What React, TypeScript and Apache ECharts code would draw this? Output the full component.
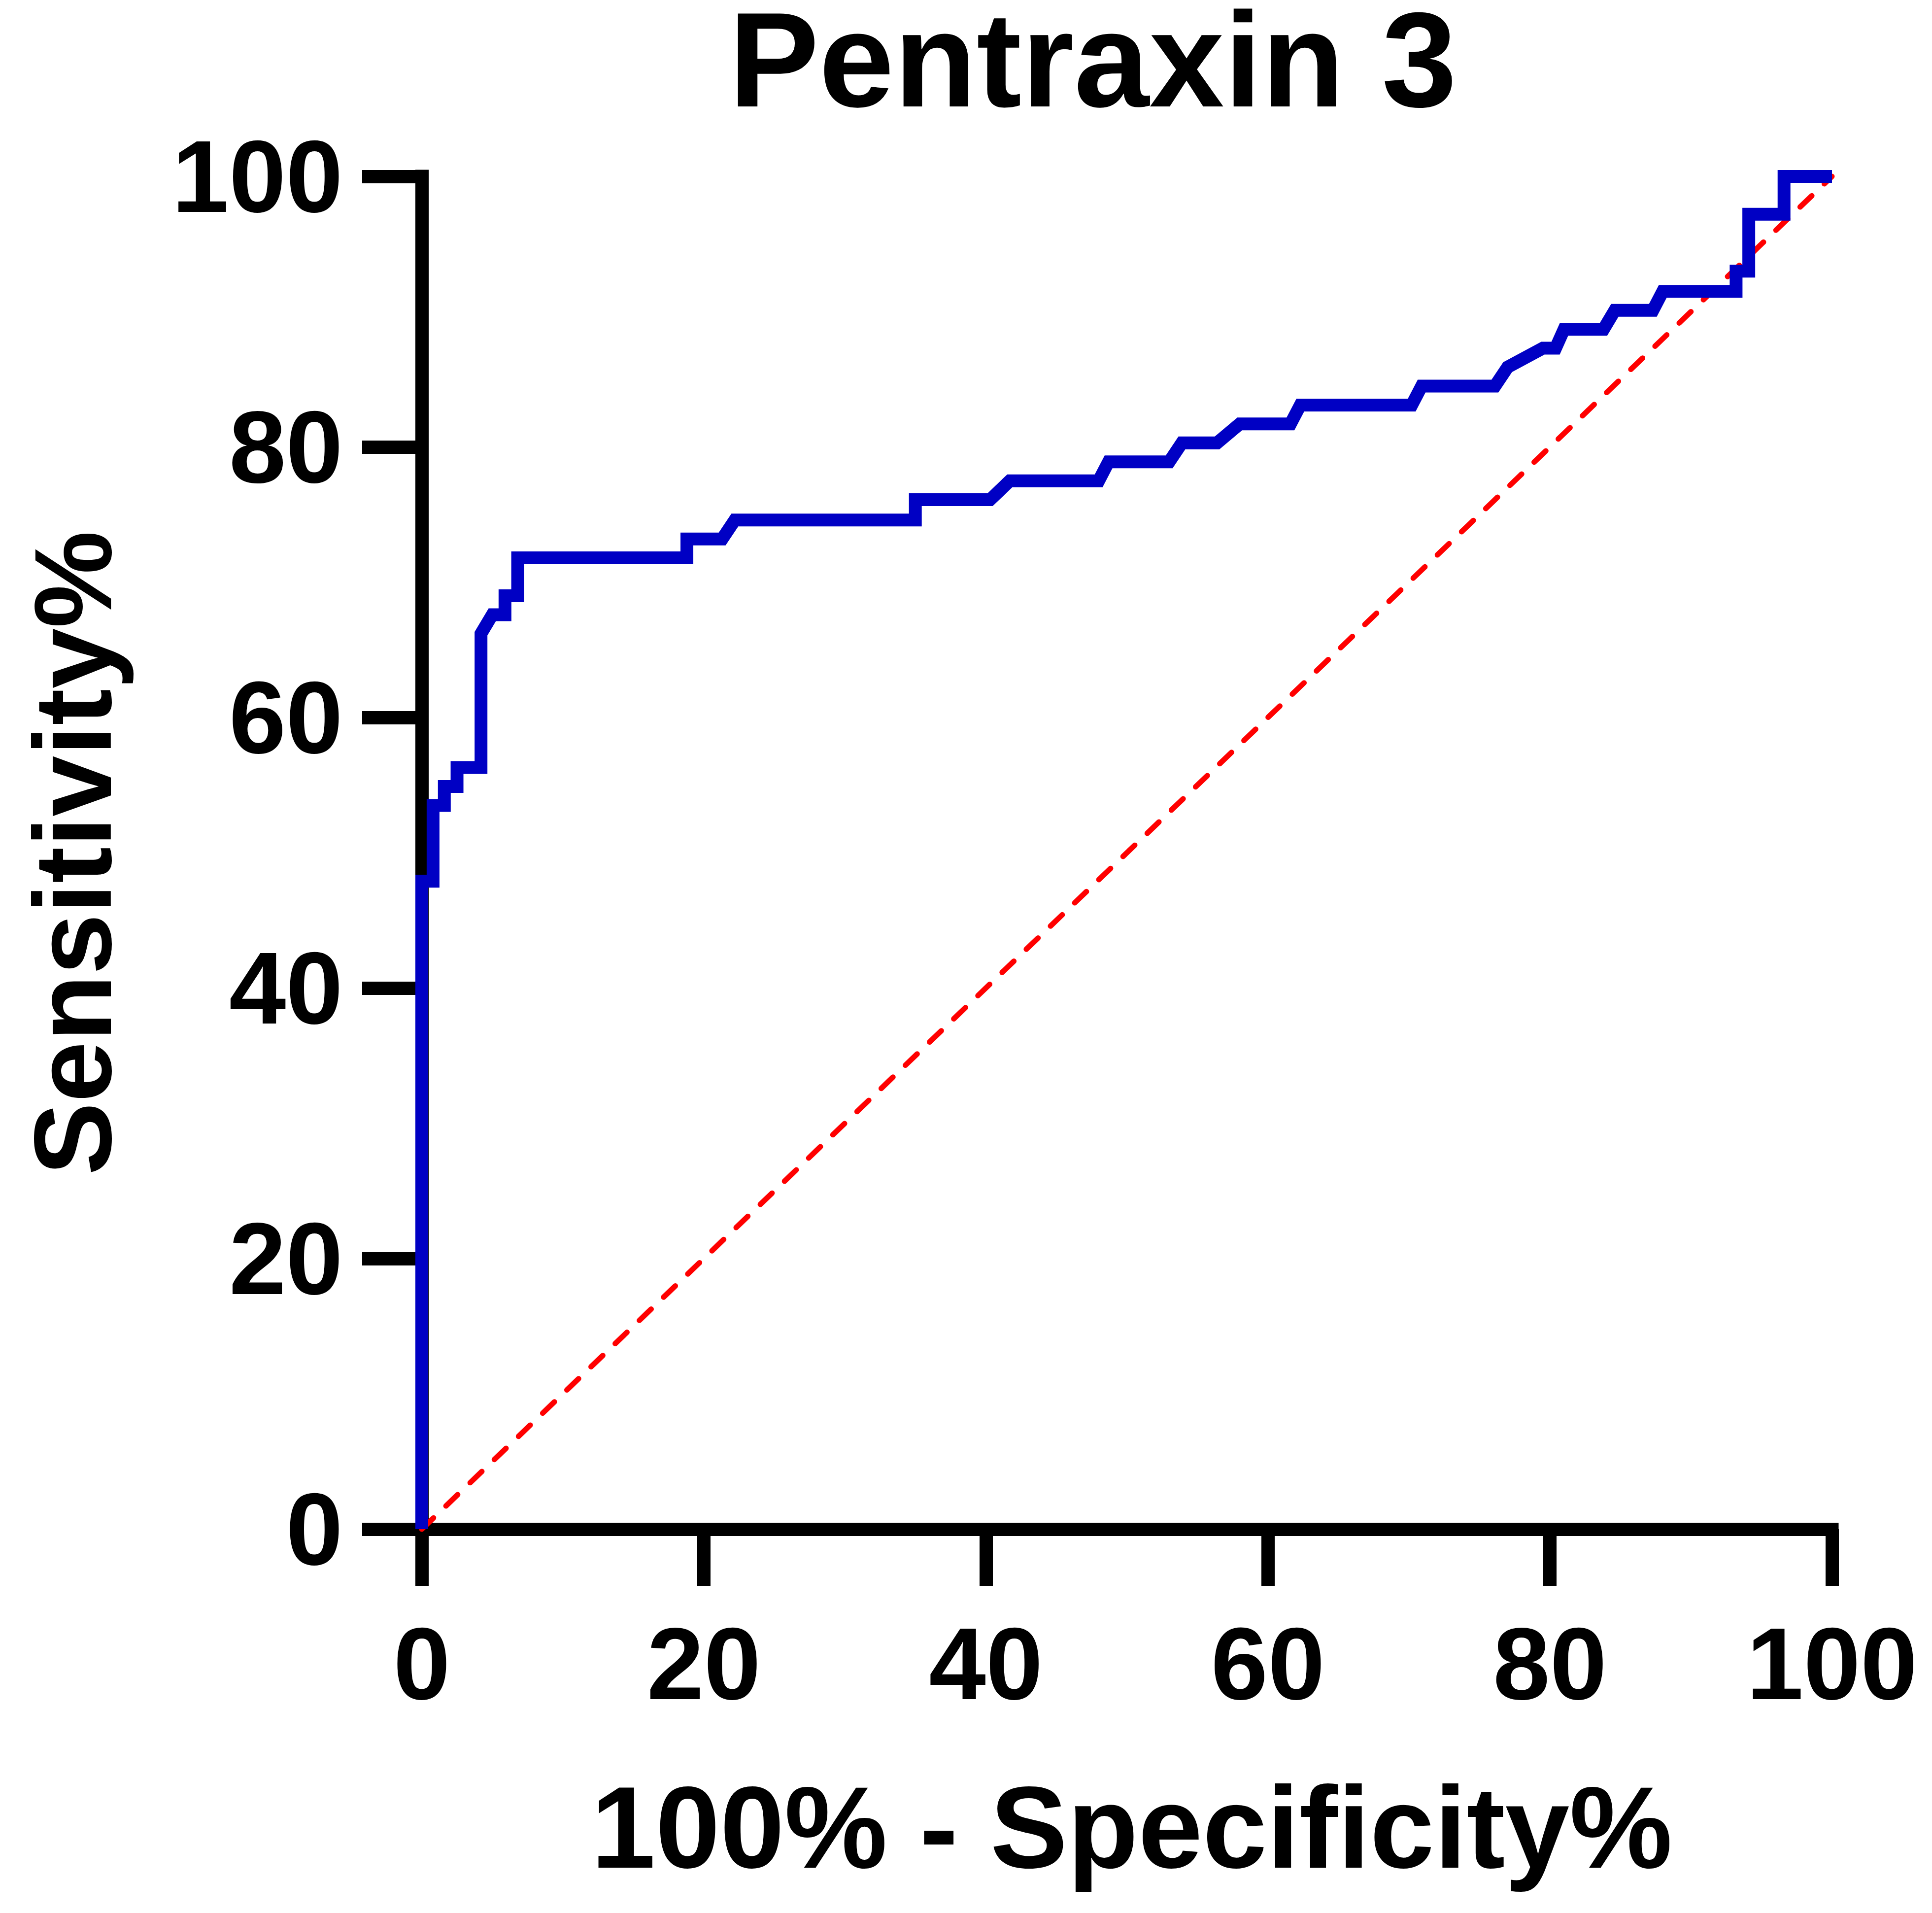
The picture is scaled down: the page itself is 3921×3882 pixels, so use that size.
import React, { useEffect, useRef } from "react";
import * as echarts from "echarts";

// ROC curve: x = 100% - Specificity%, y = Sensitivity%
const fprValues = [
  0, 0, 0.8, 0.8, 1.6, 1.6, 2.5, 2.5, 4.2, 4.2, 5.0, 5.9, 5.9, 6.8, 6.8, 18.8, 18.8, 21.3, 22.2, 35.0,
  35.0, 40.3, 41.7, 48.0, 48.7, 53.0, 53.9, 56.4, 58.0, 61.6, 62.3, 70.2, 70.9, 76.1, 77.0, 79.5, 80.4,
  81.0, 83.8, 84.6, 87.3, 88.0, 93.2, 93.2, 94.1, 94.1, 96.6, 96.6, 100,
];
const sensitivityValues = [
  0, 47.9, 47.9, 53.5, 53.5, 54.9, 54.9, 56.3, 56.3, 66.2, 67.6, 67.6, 69.0, 69.0, 71.8, 71.8, 73.2,
  73.2, 74.6, 74.6, 76.1, 76.1, 77.5, 77.5, 78.9, 78.9, 80.3, 80.3, 81.7, 81.7, 83.1, 83.1, 84.5, 84.5,
  85.9, 87.3, 87.3, 88.7, 88.7, 90.1, 90.1, 91.5, 91.5, 93.0, 93.0, 97.2, 97.2, 100, 100,
];
const referenceX = [0, 100];
const referenceY = [0, 100];

const xTicks = [0, 20, 40, 60, 80, 100];
const yTicks = [0, 20, 40, 60, 80, 100];

const chartTitle = "Pentraxin 3";
const xAxisTitle = "100% - Specificity%";
const yAxisTitle = "Sensitivity%";

const FONT = "'Liberation Sans', Arial, Helvetica, sans-serif";

export default function App() {
  const ref = useRef<HTMLDivElement | null>(null);

  useEffect(() => {
    document.body.style.margin = "0";
    if (!ref.current) return;
    const chart = echarts.init(ref.current, null, { renderer: "svg" });

    const rocData = fprValues.map((x, i) => [x, sensitivityValues[i]]);
    const refData = referenceX.map((x, i) => [x, referenceY[i]]);

    const axisCommon = {
      type: "value" as const,
      min: xTicks[0],
      max: xTicks[xTicks.length - 1],
      interval: 20,
      splitLine: { show: false },
      axisLine: {
        show: true,
        onZero: false,
        lineStyle: { color: "#000", width: 27, cap: "square" },
      },
      axisTick: {
        show: true,
        inside: false,
        lineStyle: { color: "#000", width: 27 },
      },
    };

    chart.setOption({
      animation: false,
      backgroundColor: "#ffffff",
      grid: { left: 856, right: 203, top: 358, bottom: 779, containLabel: false },
      xAxis: {
        ...axisCommon,
        axisTick: { ...axisCommon.axisTick, length: 115 },
        axisLabel: {
          margin: 169,
          color: "#000",
          fontSize: 208,
          fontWeight: "bold",
          fontFamily: FONT,
          formatter: (v: number) => (xTicks.includes(v) ? String(v) : ""),
        },
      },
      yAxis: {
        ...axisCommon,
        min: yTicks[0],
        max: yTicks[yTicks.length - 1],
        axisTick: { ...axisCommon.axisTick, length: 121 },
        axisLabel: {
          margin: 160,
          color: "#000",
          fontSize: 208,
          fontWeight: "bold",
          fontFamily: FONT,
          formatter: (v: number) => (yTicks.includes(v) ? String(v) : ""),
        },
      },
      series: [
        {
          type: "line",
          data: refData,
          showSymbol: false,
          symbol: "none",
          clip: false,
          z: 2,
          lineStyle: { color: "#ff0000", width: 11, type: [33, 35], cap: "round" },
        },
        {
          type: "line",
          data: rocData,
          showSymbol: false,
          symbol: "none",
          clip: false,
          z: 3,
          lineStyle: { color: "#0000c4", width: 26, join: "miter", cap: "butt" },
        },
      ],
      graphic: [
        {
          type: "text",
          x: 2218,
          y: 121,
          style: {
            text: chartTitle,
            fill: "#000",
            font: `bold 274px ${FONT}`,
            lineHeight: 200,
            textAlign: "center",
            textVerticalAlign: "middle",
          },
        },
        {
          type: "text",
          x: 2297,
          y: 3708,
          style: {
            text: xAxisTitle,
            fill: "#000",
            font: `bold 235px ${FONT}`,
            textAlign: "center",
            textVerticalAlign: "middle",
          },
        },
        {
          type: "text",
          x: 148,
          y: 1731,
          rotation: Math.PI / 2,
          style: {
            text: yAxisTitle,
            fill: "#000",
            font: `bold 222px ${FONT}`,
            textAlign: "center",
            textVerticalAlign: "middle",
          },
        },
      ],
    });

    return () => {
      chart.dispose();
    };
  }, []);

  return (
    <div
      ref={ref}
      style={{ position: "absolute", left: 0, top: 0, width: 3921, height: 3882, background: "#fff" }}
    />
  );
}
